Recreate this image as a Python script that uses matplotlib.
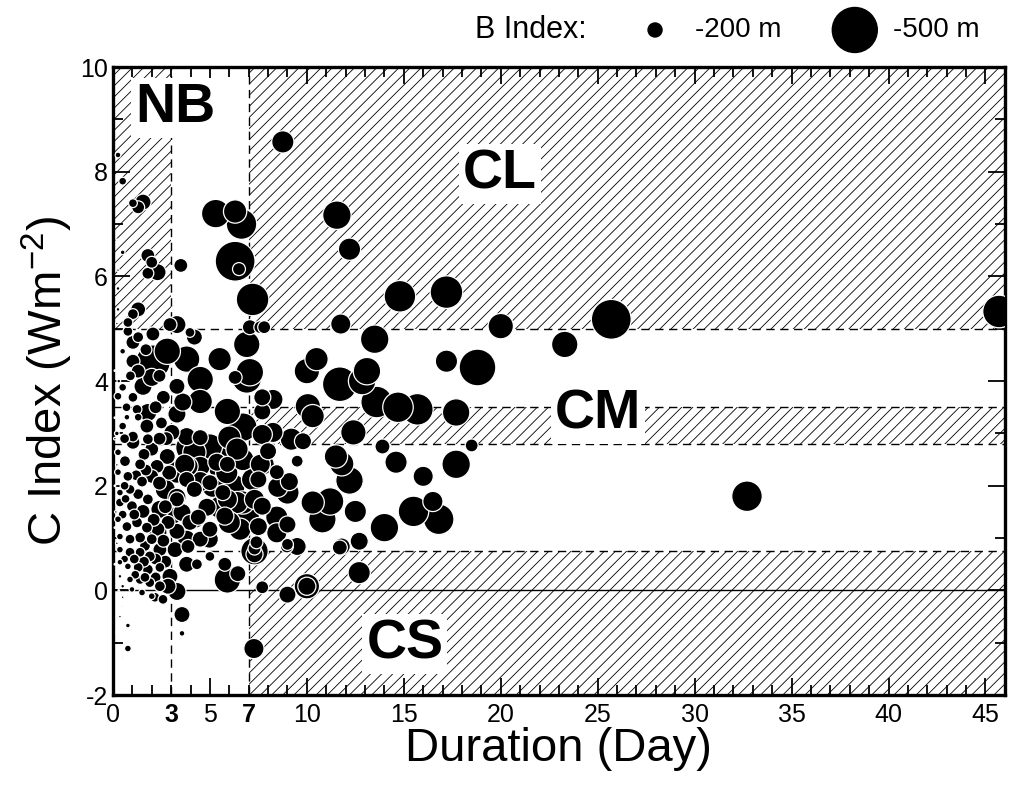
import numpy as np
import matplotlib
matplotlib.use('Agg')
import matplotlib.pyplot as plt

plt.rcParams['font.family'] = ['Liberation Sans', 'DejaVu Sans']
plt.rcParams['hatch.linewidth'] = 0.6
plt.rcParams['axes.unicode_minus'] = False

# (duration [day], C index [W m-2], B index [m]), grouped by area
events_upper_left = [
    (0.26, 8.32, -120), (1.3, 8.13, -80), (0.5, 7.82, -140), (1.55, 7.42, -220),
    (1.03, 7.40, -150), (1.3, 7.32, -190), (0.5, 6.46, -110), (1.8, 6.40, -200),
    (2.0, 6.27, -180), (2.3, 6.08, -230), (1.8, 6.06, -180), (3.5, 6.21, -200),
    (0.26, 6.12, -90), (0.26, 5.77, -100), (0.2, 5.6, -80), (0.2, 6.7, -80),
    (0.77, 5.12, -160), (0.77, 4.95, -160), (1.3, 5.37, -210), (1.03, 5.28, -170),
    (0.26, 5.37, -100), (0.2, 5.1, -90),
]

events_big_upper = [
    (8.76, 8.57, -280), (5.3, 7.2, -340), (6.3, 7.24, -290), (6.63, 7.0, -360),
    (6.3, 6.29, -450), (6.5, 6.14, -190), (7.2, 5.56, -380), (11.55, 7.17, -340),
    (12.2, 6.52, -280), (14.8, 5.62, -370), (17.2, 5.70, -380), (20.0, 5.05, -310),
    (23.3, 4.70, -320), (25.7, 5.18, -450), (45.7, 5.33, -380), (32.7, 1.80, -360),
]

events_mid_right = [
    (18.8, 4.26, -420), (17.2, 4.38, -280), (17.7, 3.40, -330), (17.7, 2.41, -340),
    (18.5, 2.77, -190), (16.0, 2.18, -260), (15.5, 1.51, -360), (16.5, 1.70, -260),
    (16.8, 1.36, -360), (13.6, 3.60, -370), (14.7, 3.50, -360), (15.7, 3.46, -370),
    (14.6, 2.45, -280), (13.9, 2.75, -210), (12.4, 3.02, -310), (13.5, 4.80, -340),
    (11.75, 5.09, -260), (7.6, 5.03, -190), (10.5, 4.42, -290), (10.0, 4.19, -310),
    (11.7, 3.94, -400), (13.1, 4.19, -330), (12.85, 4.0, -330), (10.05, 3.52, -310),
    (10.3, 3.33, -290), (7.06, 4.17, -330), (8.25, 3.65, -260), (7.7, 3.42, -230),
    (8.25, 3.02, -260), (7.7, 2.98, -260), (9.2, 2.89, -280), (9.8, 2.85, -230),
    (8.0, 2.66, -230), (11.5, 2.56, -290), (11.8, 2.42, -300), (12.2, 2.10, -330),
    (9.5, 2.47, -180), (7.6, 2.41, -260), (7.5, 2.12, -230), (8.5, 1.97, -260),
    (9.0, 1.87, -290), (7.3, 1.74, -260), (10.3, 1.68, -290), (11.2, 1.70, -330),
    (10.8, 1.36, -330), (12.5, 1.51, -280), (8.45, 1.40, -280), (9.0, 1.26, -230),
    (8.45, 1.10, -260), (7.4, 0.92, -190), (7.3, 0.69, -230), (9.0, 0.88, -180),
    (9.5, 0.84, -240), (11.8, 0.84, -230), (12.7, 0.94, -240), (14.0, 1.20, -340),
    (12.7, 0.34, -280), (7.7, 0.06, -190), (9.0, -0.08, -230), (10.0, 0.08, -310),
    (10.0, 0.08, -240), (7.3, 0.75, -330), (7.3, 0.80, -190), (11.7, 0.82, -210),
    (8.97, 0.84, -190), (7.27, -1.11, -260), (7.7, 3.69, -230), (7.8, 2.41, -260),
    (8.45, 2.26, -210), (9.1, 2.08, -240), (7.7, 1.61, -240), (7.5, 1.22, -240),
    (7.8, 5.03, -190), (7.06, 5.03, -210),
]

events_mid_left = [
    (3.3, 5.08, -240), (2.94, 5.08, -200), (2.06, 4.90, -200), (3.97, 4.93, -160),
    (4.2, 4.84, -220), (1.03, 4.74, -200), (1.3, 4.84, -170), (0.5, 4.57, -120),
    (2.8, 4.57, -320), (2.06, 4.36, -400), (3.8, 4.42, -320), (5.5, 4.42, -290),
    (6.9, 4.70, -320), (1.03, 4.38, -200), (1.3, 4.19, -200), (2.0, 4.07, -240),
    (1.55, 3.90, -240), (2.6, 3.69, -200), (3.3, 3.90, -220), (4.5, 4.03, -320),
    (6.3, 4.07, -200), (6.9, 4.05, -350), (4.5, 3.61, -300), (3.3, 3.37, -240),
    (3.6, 3.60, -240), (5.9, 3.42, -320), (6.7, 3.12, -340), (0.5, 3.88, -140),
    (0.26, 3.71, -140), (1.03, 3.69, -160), (1.8, 3.40, -240), (1.24, 3.46, -160),
    (1.75, 3.14, -200), (0.72, 3.31, -120), (1.3, 3.31, -140), (0.5, 3.14, -140),
    (1.03, 2.94, -170), (1.8, 2.89, -170), (3.04, 3.02, -220), (3.8, 2.94, -240),
    (4.5, 2.92, -220), (6.0, 2.92, -290), (0.1, 4.2, -80), (0.3, 4.0, -100),
    (0.1, 3.3, -80), (0.2, 3.0, -110), (0.7, 3.5, -150), (2.2, 3.5, -190),
    (2.5, 3.2, -180), (0.9, 4.1, -160), (1.7, 4.6, -180), (2.4, 4.1, -190),
]

events_low_left = [
    (1.03, 2.83, -200), (2.0, 2.70, -200), (2.8, 2.56, -220), (3.97, 2.73, -340),
    (5.0, 2.75, -310), (6.4, 2.70, -280), (0.26, 2.64, -130), (0.62, 2.47, -170),
    (1.4, 2.41, -170), (2.27, 2.37, -200), (3.7, 2.41, -260), (4.5, 2.37, -260),
    (5.36, 2.45, -240), (5.9, 2.41, -220), (6.7, 2.50, -280), (7.2, 2.12, -280),
    (0.26, 2.26, -130), (0.77, 2.18, -160), (1.5, 2.08, -170), (2.0, 2.18, -200),
    (2.7, 1.93, -260), (3.8, 2.12, -220), (4.2, 1.93, -220), (5.0, 2.06, -220),
    (5.67, 1.87, -220), (6.4, 1.68, -280), (6.9, 1.40, -310), (0.36, 1.87, -130),
    (0.88, 1.93, -160), (1.3, 1.84, -170), (1.8, 1.74, -170), (0.36, 1.68, -150),
    (0.98, 1.61, -170), (1.55, 1.51, -200), (2.42, 1.55, -240), (3.3, 1.78, -240),
    (3.56, 1.49, -240), (4.4, 1.40, -220), (5.5, 1.59, -280), (6.0, 1.30, -280),
    (5.0, 1.17, -220), (0.26, 1.36, -130), (0.72, 1.22, -160), (1.24, 1.30, -170),
    (1.75, 1.20, -170), (2.32, 1.17, -200), (2.84, 1.30, -200), (3.3, 1.13, -220),
    (3.97, 1.30, -220), (4.5, 0.98, -220), (3.87, 0.84, -200), (0.36, 1.03, -130),
    (0.88, 0.98, -160), (1.4, 1.01, -170), (2.0, 0.98, -170), (2.42, 0.78, -200),
    (3.2, 0.78, -220), (3.8, 0.50, -220), (4.33, 0.50, -170), (5.0, 0.65, -160),
    (5.77, 0.50, -200), (5.9, 0.20, -320), (6.44, 0.32, -220), (0.36, 0.78, -130),
    (0.88, 0.73, -160), (1.4, 0.73, -160), (1.9, 0.65, -170), (0.36, 0.54, -120),
    (0.77, 0.46, -130), (1.3, 0.44, -160), (1.8, 0.40, -170), (2.42, 0.44, -160),
    (2.94, 0.27, -220), (0.36, 0.27, -100), (0.88, 0.21, -130), (1.4, 0.21, -160),
    (1.9, 0.15, -160), (2.42, 0.08, -170), (2.84, 0.08, -220), (3.3, -0.02, -240),
    (0.5, 0.08, -100), (0.98, 0.02, -120), (1.5, -0.04, -130), (2.0, -0.11, -130),
    (2.58, -0.17, -160), (2.16, -0.13, -160), (0.5, -0.13, -90), (0.5, -0.30, -80),
    (5.36, 2.70, -330), (4.2, 2.64, -290), (5.0, 2.50, -310), (5.5, 2.36, -290),
    (5.87, 2.25, -280), (3.87, 2.37, -260), (3.3, 2.26, -280), (4.5, 2.08, -260),
    (5.15, 1.99, -280), (6.16, 1.99, -310), (6.7, 1.68, -290), (5.9, 1.74, -260),
    (4.85, 1.59, -240), (5.77, 1.42, -240), (6.55, 1.17, -280), (4.23, 1.36, -240),
    (3.3, 1.74, -210), (3.04, 1.42, -240), (2.32, 1.11, -240), (3.8, 0.98, -240),
    (4.97, 0.98, -240), (0.1, 2.9, -90), (0.2, 2.4, -90), (0.1, 2.0, -80),
    (0.15, 1.5, -90), (0.1, 1.2, -80), (0.2, 0.9, -90), (0.1, 0.5, -80),
    (0.3, 0.0, -80), (0.6, 2.9, -160), (1.6, 2.6, -180), (2.4, 2.9, -190),
    (0.5, 1.45, -150), (1.1, 1.45, -170), (2.1, 1.35, -190), (2.7, 1.6, -200),
    (0.6, 0.6, -140), (1.1, 0.6, -160), (1.6, 0.55, -170), (2.2, 0.6, -180),
    (2.7, 0.55, -190), (0.6, 2.0, -150), (1.2, 2.2, -170), (2.4, 2.05, -200),
    (1.7, 2.3, -180), (2.9, 2.25, -210), (2.6, 0.95, -190), (1.65, 0.85, -170),
    (0.65, 1.75, -150), (2.75, 2.9, -200), (1.15, 0.3, -150), (1.65, 0.25, -160),
    (2.2, 0.25, -170),
]

events_negative = [
    (3.56, -0.46, -220), (3.56, -0.82, -120), (0.77, -0.67, -110), (0.36, -0.5, -90),
    (0.77, -1.11, -130), (0.5, -1.28, -80), (0.15, -0.8, -70),
]

legend_depths = [-200, -500]


def b_to_size(b):
    # marker diameter grows linearly with depth of B index
    d_px = 0.1033 * (np.abs(b) - 64.5)
    d_pt = d_px * 72 / 100
    return d_pt ** 2


all_events = (events_upper_left + events_big_upper + events_mid_right
              + events_mid_left + events_low_left + events_negative)
dur = np.array([e[0] for e in all_events])
cidx = np.array([e[1] for e in all_events])
bidx = np.array([e[2] for e in all_events])
order = np.argsort(bidx)  # deepest (largest) first, small ones on top
dur, cidx, bidx = dur[order], cidx[order], bidx[order]

fig = plt.figure(figsize=(10.14, 7.89), dpi=100)
ax = fig.add_axes([0.1114, 0.119, 0.8796, 0.796])

# hatched regions
hatch_kw = dict(facecolor='white', edgecolor='black', linewidth=0, hatch='///', zorder=0)
ax.fill_between([0, 3], 5, 10, **hatch_kw)
ax.fill_between([7, 46], 5, 10, **hatch_kw)
ax.fill_between([7, 46], 2.8, 3.5, **hatch_kw)
ax.fill_between([7, 46], -2, 0.75, **hatch_kw)

dash = (0, (6, 4))
for yv in [5, 3.5, 2.8, 0.75]:
    ax.axhline(yv, color='black', lw=1.0, ls=dash, zorder=1)
for xv in [3, 7]:
    ax.axvline(xv, color='black', lw=1.0, ls=dash, zorder=1)
ax.axhline(0, color='black', lw=1.0, zorder=1)

ax.scatter(dur, cidx, s=b_to_size(bidx), c='black', edgecolors='white',
           linewidths=0.9, zorder=3, clip_on=True)

# region labels
box = dict(facecolor='white', edgecolor='none', pad=3)
lab_kw = dict(fontsize=40, fontweight='bold', ha='center', va='center', bbox=box, zorder=4)
ax.text(3.2, 9.22, 'NB', **lab_kw)
ax.text(19.95, 7.95, 'CL', **lab_kw)
ax.text(25.0, 3.37, 'CM', **lab_kw)
ax.text(15.05, -1.03, 'CS', **lab_kw)

ax.set_xlim(0, 46)
ax.set_ylim(-2, 10)
ax.set_xticks(np.arange(0, 46, 5))
minor_pos = list(range(0, 47))
minor_lab = ['3' if p == 3 else '7' if p == 7 else '' for p in minor_pos]
ax.set_xticks(minor_pos, labels=minor_lab, minor=True)
for t in ax.get_xticklabels(minor=True):
    t.set_fontweight('bold')
ax.set_yticks(np.arange(-2, 11, 2))
ax.set_yticks(np.arange(-2, 11, 1), minor=True)
ax.tick_params(which='both', direction='in', top=True, right=True, labelsize=18, width=1.3)
ax.tick_params(which='major', length=12)
ax.tick_params(which='minor', length=7)
ax.tick_params(axis='x', which='both', pad=6)
for sp in ax.spines.values():
    sp.set_linewidth(2.4)

ax.set_xlabel('Duration (Day)', fontsize=34, labelpad=0)
ax.set_ylabel('C Index (Wm$^{\\mathregular{-2}}$)', fontsize=34, labelpad=4)

# size legend on top
fig.text(0.468, 0.962, 'B Index:', fontsize=22, ha='left', va='center')
fig_ax = fig.add_axes([0, 0, 1, 1], facecolor='none')
fig_ax.set_axis_off()
fig_ax.set_xlim(0, 1)
fig_ax.set_ylim(0, 1)
fig_ax.scatter([0.646, 0.843], [0.962, 0.962], s=b_to_size(np.array(legend_depths)), c='black')
fig.text(0.685, 0.962, '-200 m', fontsize=20, ha='left', va='center')
fig.text(0.881, 0.962, '-500 m', fontsize=20, ha='left', va='center')

fig.savefig('out.png', dpi=100)
